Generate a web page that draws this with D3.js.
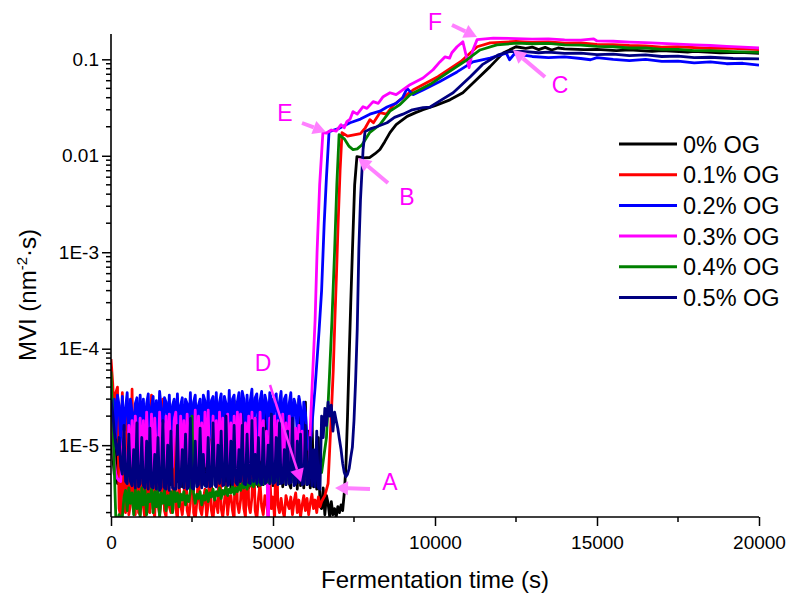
<!DOCTYPE html>
<html>
<head>
<meta charset="utf-8">
<script src="https://cdn.jsdelivr.net/npm/d3@7"></script>
<style>
  body { margin: 0; background: #fff; }
  svg { display: block; font-family: "Liberation Sans", Arial, sans-serif; }
</style>
</head>
<body>
<div id="chart"></div>
<script>
// shared time grid (s) for the noisy baseline part, one row = 1000 s
const baseTime = [
  0, 50, 100, 150, 200, 250, 300, 350, 400, 450, 500, 550, 600, 650, 700, 750, 800, 850, 900, 950,
  1000, 1050, 1100, 1150, 1200, 1250, 1300, 1350, 1400, 1450, 1500, 1550, 1600, 1650, 1700, 1750, 1800, 1850, 1900, 1950,
  2000, 2050, 2100, 2150, 2200, 2250, 2300, 2350, 2400, 2450, 2500, 2550, 2600, 2650, 2700, 2750, 2800, 2850, 2900, 2950,
  3000, 3050, 3100, 3150, 3200, 3250, 3300, 3350, 3400, 3450, 3500, 3550, 3600, 3650, 3700, 3750, 3800, 3850, 3900, 3950,
  4000, 4050, 4100, 4150, 4200, 4250, 4300, 4350, 4400, 4450, 4500, 4550, 4600, 4650, 4700, 4750, 4800, 4850, 4900, 4950,
  5000, 5050, 5100, 5150, 5200, 5250, 5300, 5350, 5400, 5450, 5500, 5550, 5600, 5650, 5700, 5750, 5800, 5850, 5900, 5950,
  6000, 6050, 6100, 6150, 6200, 6250, 6300, 6350, 6400, 6450, 6500, 6550, 6600, 6650, 6700, 6750, 6800, 6850, 6900, 6950,
  7000, 7050, 7100, 7150, 7200, 7250, 7300, 7350, 7400];

// baseline values in units of 1E-6
const base0 = [
  15, 8, 5, 20, 4, 12, 22, 4, 3.8, 18, 4, 24, 6, 3.8, 14, 3.6, 21, 4, 9, 3.7,
  21, 4, 5, 26, 3.8, 11, 3.6, 15, 4, 3.5, 23, 4, 7, 20, 3.6, 4, 25, 3.9, 12, 3.7,
  25, 4.2, 9, 14, 3.7, 4, 24, 3.8, 6, 19, 3.5, 4, 27, 4, 10, 16, 3.8, 4.1, 25, 3.9,
  4.1, 21, 3.6, 8, 28, 4, 3.8, 18, 3.7, 12, 26, 4, 3.9, 22, 3.5, 7, 29, 4, 3.8, 17,
  3.8, 27, 4, 9, 23, 3.6, 4, 30, 4.1, 11, 19, 3.7, 4, 28, 3.9, 8, 24, 3.5, 4.2, 30,
  3.8, 14, 3.6, 25, 4, 10, 3.7, 29, 3.9, 20, 4, 3.6, 27, 4.1, 12, 3.5, 30, 3.8, 9, 3.6,
  28, 3.9, 14, 3.6, 22, 3.7, 8, 3.5, 12, 2.4, 2.2, 3.6, 1.9, 3, 2.5, 1.8, 2.6, 1.9, 2.2, 1.8,
  2.3, 2.0, 2.4, 2.1, 3.2];
const base1 = [
  78, 45, 20, 35, 40, 2.2, 1.8, 35, 2.4, 2, 30, 1.9, 2.4, 38, 2.1, 1.9, 22, 2, 1.9, 28,
  2.3, 1.7, 12, 2.1, 2, 33, 2.2, 1.8, 8, 2.4, 1.9, 2.6, 30, 2.1, 1.8, 6, 2.3, 2, 2.5, 18,
  2.2, 1.7, 4, 2.4, 1.9, 2.8, 9, 2.1, 1.8, 2.5, 25, 2, 1.7, 2.6, 5, 2.2, 1.9, 2.7, 3.5, 1.8,
  2.4, 7, 2.1, 1.7, 2.8, 2.5, 2, 12, 2.2, 1.8, 2.6, 4, 1.9, 2.9, 3, 2.1, 1.7, 15, 2.5, 2,
  2.7, 6, 2.2, 1.8, 18, 2.4, 2, 2.9, 9, 2.1, 1.7, 2.8, 4, 2.3, 1.9, 3, 2.6, 1.8, 5, 2.2,
  2.9, 1.7, 15, 2.4, 2, 2.8, 2.1, 1.8, 3, 2.5, 2.2, 2.9, 1.9, 2.6, 3.2, 2, 2.7, 1.8, 2.4, 3,
  2.1, 2.8, 1.9, 2.5, 3.1, 2.2, 2.7, 2, 2.9, 2.3, 2.6, 2.8, 3];
const base2 = [
  28, 18, 30, 12, 33, 26, 10, 32, 14, 24, 35, 9, 30, 22, 13, 27, 31, 10, 33, 15,
  30, 12, 27, 34, 10, 25, 32, 13, 29, 11, 36, 24, 12, 31, 28, 14, 33, 10, 26, 30,
  13, 34, 12, 26, 31, 10, 30, 27, 13, 35, 11, 28, 33, 12, 26, 30, 9, 33, 29, 12,
  36, 12, 29, 32, 11, 35, 13, 28, 34, 10, 32, 27, 14, 37, 12, 30, 33, 11, 28, 35,
  12, 36, 30, 11, 33, 14, 29, 38, 10, 31, 34, 12, 29, 36, 11, 33, 28, 13, 35, 30,
  11, 31, 34, 13, 28, 36, 10, 30, 33, 12, 27, 35, 11, 30, 26, 13, 32, 25, 10, 28,
  22, 12, 9];
const base3 = [
  20, 12, 7, 5, 4.5, 4.3, 4.2, 9, 14, 5, 4.8, 16, 6, 18, 5, 20, 7, 5.5, 19, 6,
  18, 5, 22, 7, 6, 21, 5, 19, 8, 5.5, 22, 6, 17, 5, 20, 7, 21, 5.5, 6, 18,
  22, 6, 5, 20, 7, 18, 5, 21, 6, 19, 5.5, 7, 23, 5, 20, 6, 17, 5, 22, 6,
  23, 5, 7, 20, 6, 18, 5, 22, 7, 19, 5, 6, 21, 5.5, 17, 6, 20, 5, 22, 7,
  21, 6, 5, 17, 6, 20, 5, 22, 6, 19, 6, 5, 22, 7, 18, 5, 14, 1.0, 19, 6,
  6, 20, 5, 18, 7, 5, 21, 6, 17, 5, 20, 6, 17, 5, 15, 6, 16, 5, 14, 5,
  5, 4.8, 4.5];
const base4 = [
  58, 20, 6, 1.7, 1.6, 1.9, 1.7, 1.8, 2.9, 3.4, 2.1, 3.6, 2.5, 3.2, 1.9, 3.5, 2.2, 3.3, 1.8, 3.6,
  2.4, 3.4, 1.9, 3.1, 2.6, 3.5, 2, 3.3, 2.3, 3.6, 1.8, 3.2, 2.5, 3.4, 2.1, 3, 2.4, 3.3, 2, 3.5,
  2.6, 3.2, 2.3, 3.1, 2.7, 3.3, 2.4, 3, 2.6, 3.4, 20, 3.2, 2.5, 3.1, 2.8, 3.3, 2.4, 3, 2.7, 3.4,
  2.6, 3.2, 2.9, 3.5, 2.7, 3.3, 3, 3.6, 2.8, 3.4, 3.1, 3.7, 3, 3.5, 3.2, 3.8, 3.1, 3.6, 3.3, 3.9,
  3.4, 4, 3.6, 4.2, 3.5, 4.1, 3.8, 4.3, 3.7, 4.4, 3.9, 4.5, 3.8, 4.3, 4, 4.6, 4.1, 4.5, 4, 4.7,
  4.2, 4.6, 4.3, 4.8, 4.1, 4.7, 4.4, 4.9, 4.3, 4.8, 4.5, 5, 4.4, 4.9, 4.6, 5.1, 4.5, 5, 4.7, 5.2,
  4.6, 5.1, 4.8, 5.3, 4.7, 5.2, 4.9, 5.4, 5, 5.5, 5.2];
const base5 = [
  30, 22, 14, 10, 8, 12, 6, 5, 16, 4.2, 4, 13, 4.2, 3.8, 9, 3.6, 17, 3.7, 4, 12,
  3.8, 3.6, 11, 3.5, 15, 3.7, 3.6, 8, 3.5, 12, 3.4, 3.7, 18, 3.6, 3.5, 10, 3.4, 14, 3.6, 3.5,
  3.5, 16, 3.6, 3.8, 9, 3.6, 13, 3.5, 3.7, 19, 3.6, 3.5, 11, 3.7, 3.9, 15, 3.6, 8, 3.8, 3.7,
  12, 3.7, 3.8, 17, 3.9, 3.7, 10, 4, 14, 3.8, 3.9, 20, 3.8, 4, 11, 3.9, 16, 4.1, 3.9, 9,
  4.2, 16, 4, 3.9, 13, 4.1, 4, 18, 4.2, 8, 4, 12, 4.1, 3.9, 15, 4, 4.2, 10, 4, 21,
  4, 4.1, 12, 3.9, 17, 4, 4.1, 9, 3.9, 14, 4, 4.1, 19, 3.8, 4, 11, 4.1, 13, 3.9, 4,
  16, 3.9, 4, 12, 3.8, 9, 3.7, 14, 3.6, 3.5, 20, 12, 24, 16, 28, 20, 26, 14, 22, 18,
  15, 11.5, 9, 6.5, 5.2, 4.7, 5, 5.7, 7.5];

// rise and plateau: [time (s), MVI]
const tail0 = [[7250, 6e-6], [7300, 2e-5], [7350, 8e-5], [7400, 3e-4], [7450, 1e-3], [7520, 5e-3],
  [7590, 0.0098], [7800, 0.0095], [7990, 0.0096], [8150, 0.0105], [8300, 0.0116], [8450, 0.014],
  [8610, 0.0174], [8800, 0.021], [9140, 0.0256], [9400, 0.028], [9630, 0.03], [10000, 0.033],
  [10460, 0.038], [10860, 0.045], [11270, 0.061], [11700, 0.084], [12100, 0.116], [12500, 0.135],
  [12800, 0.13], [13000, 0.134], [13200, 0.126], [13400, 0.133], [13600, 0.125], [13800, 0.131],
  [14000, 0.128], [14600, 0.126], [15000, 0.127], [15600, 0.123], [16000, 0.125], [16700, 0.121],
  [17000, 0.123], [17800, 0.119], [18000, 0.121], [18800, 0.117], [19400, 0.118], [20000, 0.115]];
const tail1 = [[6700, 4e-6], [6780, 1.5e-5], [6860, 6e-5], [6910, 2e-4], [6960, 6e-4], [7010, 2e-3],
  [7070, 7e-3], [7130, 0.0174], [7300, 0.016], [7500, 0.0165], [7700, 0.017], [7850, 0.0195],
  [7990, 0.0237], [8100, 0.022], [8300, 0.028], [8500, 0.027], [8700, 0.033], [8920, 0.038],
  [9320, 0.048], [10090, 0.066], [10800, 0.095], [11300, 0.135], [11700, 0.148], [12500, 0.153],
  [13000, 0.15], [13500, 0.152], [14000, 0.147], [14500, 0.148], [15000, 0.143], [15500, 0.142],
  [16000, 0.139], [16500, 0.138], [17000, 0.134], [17500, 0.135], [18500, 0.13], [19200, 0.13],
  [20000, 0.126]];
const tail2 = [[6150, 1.0e-5], [6300, 4e-5], [6420, 1.5e-4], [6500, 4e-4], [6580, 2e-3], [6650, 6e-3],
  [6730, 0.0178], [7000, 0.019], [7380, 0.022], [7700, 0.024], [7990, 0.027], [8300, 0.029],
  [8520, 0.032], [8800, 0.035], [9000, 0.04], [9140, 0.05], [9320, 0.043], [9630, 0.048],
  [10150, 0.059], [10680, 0.074], [11170, 0.094], [11700, 0.103], [12200, 0.116], [12300, 0.099],
  [12450, 0.114], [13000, 0.107], [13500, 0.104], [14000, 0.106], [14500, 0.102], [14800, 0.099],
  [15000, 0.104], [15500, 0.1], [16000, 0.097], [16500, 0.1], [17000, 0.095], [17500, 0.096],
  [18000, 0.092], [18500, 0.094], [19000, 0.09], [19500, 0.091], [20000, 0.087]];
const tail3 = [[6150, 1.5e-5], [6230, 6e-5], [6300, 2e-4], [6360, 1e-3], [6440, 5e-3], [6540, 0.0174],
  [6650, 0.0172], [6800, 0.0185], [6950, 0.018], [7100, 0.021], [7200, 0.0195], [7280, 0.0226],
  [7380, 0.024], [7470, 0.0287], [7600, 0.027], [7780, 0.0323], [7900, 0.031], [8090, 0.0364],
  [8250, 0.035], [8400, 0.041], [8610, 0.045], [8800, 0.043], [8920, 0.046], [9230, 0.0546],
  [9630, 0.064], [9940, 0.078], [10150, 0.094], [10310, 0.106], [10450, 0.103], [10520, 0.117],
  [10680, 0.135], [10860, 0.152], [11050, 0.082], [11170, 0.125], [11300, 0.16], [11800, 0.166],
  [12500, 0.164], [13000, 0.162], [13500, 0.163], [14000, 0.159], [14500, 0.158], [14900, 0.163],
  [15000, 0.155], [15500, 0.154], [16000, 0.151], [16500, 0.149], [17000, 0.146], [17500, 0.144],
  [18000, 0.141], [18500, 0.139], [19000, 0.136], [19500, 0.134], [20000, 0.131]];
const tail4 = [[6650, 1.2e-5], [6740, 5e-5], [6820, 2e-4], [6900, 1e-3], [6970, 5e-3], [7040, 0.0166],
  [7200, 0.015], [7350, 0.0125], [7470, 0.0116], [7600, 0.0118], [7750, 0.013], [7990, 0.0175],
  [8300, 0.021], [8610, 0.029], [8920, 0.034], [9230, 0.043], [9850, 0.055], [10370, 0.072],
  [10990, 0.099], [11390, 0.125], [11910, 0.141], [12530, 0.147], [13000, 0.145], [13500, 0.146],
  [14000, 0.141], [14500, 0.14], [15000, 0.136], [15500, 0.135], [16000, 0.131], [16500, 0.131],
  [17000, 0.127], [17500, 0.127], [18000, 0.123], [18500, 0.123], [19200, 0.12], [20000, 0.118]];
const tail5 = [[7450, 9.5e-6], [7500, 1.8e-5], [7550, 4.7e-5], [7600, 1.6e-4], [7650, 1.08e-3],
  [7700, 3.5e-3], [7780, 0.0116], [7840, 0.0178], [8000, 0.019], [8200, 0.02], [8520, 0.022],
  [8750, 0.025], [9010, 0.027], [9300, 0.03], [9630, 0.0316], [9850, 0.032], [10200, 0.038],
  [10560, 0.045], [11090, 0.066], [11460, 0.088], [11950, 0.111], [12300, 0.12], [12700, 0.121],
  [13200, 0.117], [13500, 0.119], [14000, 0.115], [14500, 0.116], [15000, 0.112], [15500, 0.113],
  [16000, 0.109], [16500, 0.111], [17000, 0.107], [17500, 0.108], [18000, 0.104], [18500, 0.105],
  [19200, 0.102], [20000, 0.101]];

const seriesNames = ["0% OG", "0.1% OG", "0.2% OG", "0.3% OG", "0.4% OG", "0.5% OG"];
const seriesColors = ["#000000", "#ff0000", "#0000ff", "#ff00ff", "#008000", "#000080"];
const baselines = [base0, base1, base2, base3, base4, base5];
const tails = [tail0, tail1, tail2, tail3, tail4, tail5];

const xTicks = [0, 5000, 10000, 15000, 20000];
const yTicks = [1e-5, 1e-4, 1e-3, 0.01, 0.1];
const yTickLabels = ["1E-5", "1E-4", "1E-3", "0.01", "0.1"];

const notes = [
  { label: "E", lx: 285, ly: 113, from: [302, 123], to: [326, 132], color: "#ff80ff" },
  { label: "B", lx: 407, ly: 197, from: [388, 183], to: [358, 158], color: "#ff80ff" },
  { label: "F", lx: 435, ly: 22, from: [452, 25], to: [477, 37], color: "#ff80ff" },
  { label: "C", lx: 560, ly: 85, from: [545, 77], to: [513, 50], color: "#ff80ff" },
  { label: "D", lx: 263, ly: 363, from: [270, 385], to: [301, 482], color: "#ff33ff" },
  { label: "A", lx: 390, ly: 482, from: [370, 489], to: [335, 488], color: "#ff80ff" }
];

const width = 789, height = 599;
const margin = { top: 34, right: 30, bottom: 82, left: 111 };
const fontFamily = "Liberation Sans, Arial, sans-serif";

const svg = d3.select("#chart").append("svg")
  .attr("width", width)
  .attr("height", height);

const x = d3.scaleLinear().domain([0, 20000]).range([margin.left, width - margin.right]);
const y = d3.scaleLog().domain([1.8e-6, 0.183]).range([height - margin.bottom, margin.top]);

svg.append("clipPath").attr("id", "plot-clip")
  .append("rect")
  .attr("x", margin.left)
  .attr("y", margin.top)
  .attr("width", x.range()[1] - margin.left)
  .attr("height", y.range()[0] - margin.top);

const data = baselines.map((b, i) => {
  const pts = b.map((v, j) => ({ t: baseTime[j], v: v * 1e-6 }));
  return pts.concat(tails[i].map(d => ({ t: d[0], v: d[1] })));
});

const line = d3.line()
  .x(d => x(d.t))
  .y(d => y(d.v));

svg.append("g").attr("clip-path", "url(#plot-clip)")
  .selectAll("path")
  .data(data)
  .join("path")
  .attr("fill", "none")
  .attr("stroke", (d, i) => seriesColors[i])
  .attr("stroke-width", 2.8)
  .attr("stroke-linejoin", "round")
  .attr("d", line);

// x axis
const xMinor = [2500, 7500, 12500, 17500];
const xAxis = svg.append("g")
  .attr("transform", `translate(0,${y.range()[0]})`)
  .call(d3.axisBottom(x).tickValues(xTicks).tickSize(9).tickPadding(10).tickFormat(d3.format("d")));
xAxis.selectAll("line").attr("stroke-width", 1.5);
xAxis.selectAll(".domain").attr("stroke-width", 1.6).attr("d", `M${x.range()[0]},0H${x.range()[1]}`);
xAxis.selectAll("text").attr("font-size", 19).attr("fill", "#000").style("font-family", fontFamily);
xAxis.selectAll(".minor").data(xMinor).join("line")
  .attr("class", "minor")
  .attr("x1", d => x(d)).attr("x2", d => x(d))
  .attr("y1", 0).attr("y2", 5)
  .attr("stroke", "#000").attr("stroke-width", 1.5);

// y axis
const yAxis = svg.append("g")
  .attr("transform", `translate(${margin.left},0)`)
  .call(d3.axisLeft(y).tickValues(yTicks).tickSize(9).tickPadding(3)
    .tickFormat((d, i) => yTickLabels[i]));
yAxis.selectAll("line").attr("stroke-width", 1.5);
yAxis.selectAll(".domain").attr("stroke-width", 1.6).attr("d", `M0,${y.range()[0]}V${y.range()[1]}`);
yAxis.selectAll("text").attr("font-size", 19).attr("fill", "#000").style("font-family", fontFamily);
const yMinor = [];
[1e-6, 1e-5, 1e-4, 1e-3, 1e-2, 1e-1].forEach(dec => {
  for (let k = 2; k <= 9; k++) {
    const v = dec * k;
    if (v >= y.domain()[0] && v <= y.domain()[1]) yMinor.push(v);
  }
});
yAxis.selectAll(".minor").data(yMinor).join("line")
  .attr("class", "minor")
  .attr("x1", 0).attr("x2", -5)
  .attr("y1", d => y(d)).attr("y2", d => y(d))
  .attr("stroke", "#000").attr("stroke-width", 1.5);

// axis titles
svg.append("text")
  .attr("x", (x.range()[0] + x.range()[1]) / 2)
  .attr("y", 588)
  .attr("text-anchor", "middle")
  .attr("font-size", 24)
  .text("Fermentation time (s)");

const yTitle = svg.append("text")
  .attr("transform", "translate(36,295) rotate(-90)")
  .attr("text-anchor", "middle")
  .attr("font-size", 24);
yTitle.append("tspan").text("MVI (nm");
yTitle.append("tspan").attr("font-size", 15).attr("dy", -9).text("-2");
yTitle.append("tspan").attr("dy", 9).text("·s)");

// legend
const legend = svg.append("g").attr("transform", "translate(619,144)");
seriesNames.forEach((name, i) => {
  const g = legend.append("g").attr("transform", `translate(0,${i * 30.7})`);
  g.append("line").attr("x1", 0).attr("x2", 58).attr("y1", 0).attr("y2", 0)
    .attr("stroke", seriesColors[i]).attr("stroke-width", 3);
  g.append("text").attr("x", 64).attr("y", 8.5).attr("font-size", 23.5).text(name);
});

// annotations
const ann = svg.append("g");
notes.forEach(n => {
  const [x0, y0] = n.from, [x1, y1] = n.to;
  const ang = Math.atan2(y1 - y0, x1 - x0);
  const headLen = 13, headW = 7;
  const bx = x1 - headLen * Math.cos(ang), by = y1 - headLen * Math.sin(ang);
  const px = -Math.sin(ang) * headW, py = Math.cos(ang) * headW;
  ann.append("line")
    .attr("x1", x0).attr("y1", y0).attr("x2", bx).attr("y2", by)
    .attr("stroke", n.color).attr("stroke-width", n.label === "D" ? 2.5 : 4);
  ann.append("path")
    .attr("d", `M${x1},${y1}L${bx + px},${by + py}L${bx - px},${by - py}Z`)
    .attr("fill", n.color);
  ann.append("text")
    .attr("x", n.lx).attr("y", n.ly + 8)
    .attr("text-anchor", "middle")
    .attr("font-size", 23)
    .attr("fill", "#ff00ff")
    .text(n.label);
});
</script>
</body>
</html>
